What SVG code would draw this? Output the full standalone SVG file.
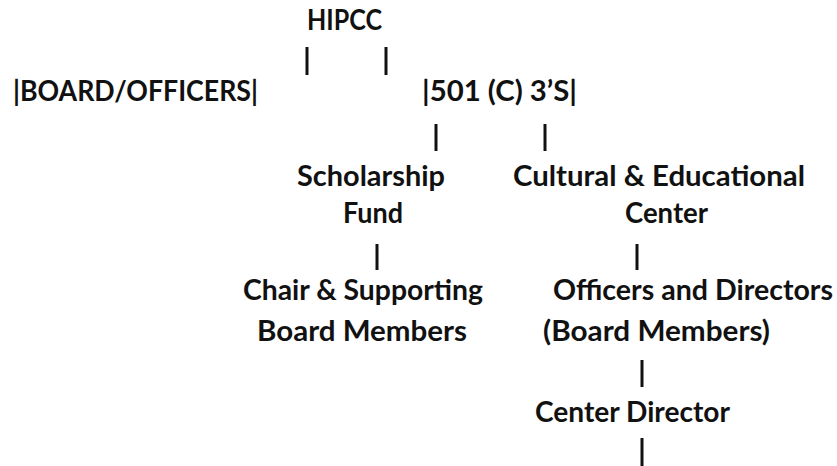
<svg xmlns="http://www.w3.org/2000/svg" width="837" height="466" viewBox="0 0 837 466">
<style>
text{font-family:Lato,"Liberation Sans",Arial,sans-serif;font-weight:bold;font-size:28px;fill:#111}
.c line{stroke:#111;stroke-width:3}
</style>
<rect width="837" height="466" fill="#fff"/>
<g id="hipcc"><text x="307" y="30" textLength="75" lengthAdjust="spacingAndGlyphs">HIPCC</text></g>
<g id="board-officers"><text x="13" y="101" textLength="245" lengthAdjust="spacingAndGlyphs">|BOARD/OFFICERS|</text></g>
<g id="c501"><text x="422" y="101" textLength="155" lengthAdjust="spacingAndGlyphs">|501 (C) 3’S|</text></g>
<g id="scholarship"><text x="297" y="186" textLength="148" lengthAdjust="spacingAndGlyphs">Scholarship</text><text x="343" y="223" textLength="60" lengthAdjust="spacingAndGlyphs">Fund</text></g>
<g id="cultural"><text x="513" y="186" textLength="292" lengthAdjust="spacingAndGlyphs">Cultural &amp; Educational</text><text x="625" y="223" textLength="83" lengthAdjust="spacingAndGlyphs">Center</text></g>
<g id="chair"><text x="243" y="300" textLength="240" lengthAdjust="spacingAndGlyphs">Chair &amp; Supporting</text><text x="257" y="341" textLength="210" lengthAdjust="spacingAndGlyphs">Board Members</text></g>
<g id="officers"><text x="553" y="300" textLength="280" lengthAdjust="spacingAndGlyphs">Officers and Directors</text><text x="543" y="341" textLength="227" lengthAdjust="spacingAndGlyphs">(Board Members)</text></g>
<g id="center-director"><text x="535" y="422" textLength="195" lengthAdjust="spacingAndGlyphs">Center Director</text></g>
<g id="connectors" class="c">
<line x1="307" y1="47" x2="307" y2="75"/>
<line x1="386" y1="47" x2="386" y2="75"/>
<line x1="436" y1="124" x2="436" y2="151"/>
<line x1="545" y1="124" x2="545" y2="151"/>
<line x1="377" y1="244" x2="377" y2="270"/>
<line x1="637" y1="244" x2="637" y2="270"/>
<line x1="642" y1="360" x2="642" y2="387"/>
<line x1="642" y1="438" x2="642" y2="466"/>
</g>
</svg>
